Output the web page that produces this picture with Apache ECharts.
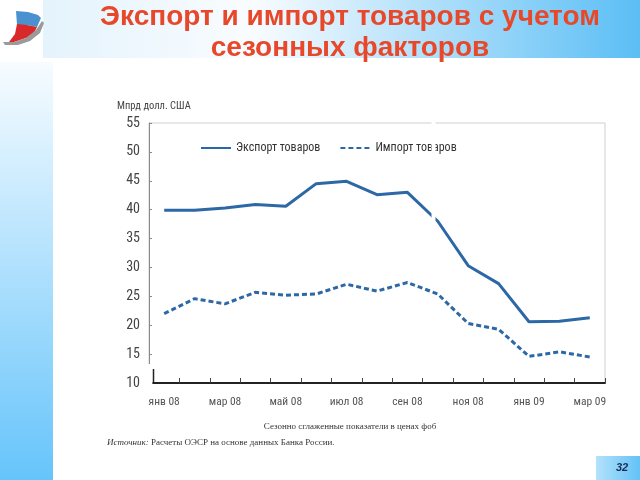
<!DOCTYPE html>
<html>
<head>
<meta charset="utf-8">
<script src="https://cdn.jsdelivr.net/npm/echarts@6/dist/echarts.min.js"></script>
<style>
html,body{margin:0;padding:0;background:#fff;}
#chart{width:640px;height:480px;}
</style>
</head>
<body>
<div id="chart"></div>
<script>
var categories = ['янв 08','фев 08','мар 08','апр 08','май 08','июн 08','июл 08','авг 08','сен 08','окт 08','ноя 08','дек 08','янв 09','фев 09','мар 09'];
var exportValues = [39.9, 39.9, 40.3, 40.9, 40.6, 44.5, 44.9, 42.6, 43.0, 38.0, 30.3, 27.2, 20.6, 20.7, 21.3];
var importValues = [22.0, 24.6, 23.7, 25.7, 25.2, 25.4, 27.1, 25.9, 27.4, 25.4, 20.3, 19.3, 14.6, 15.4, 14.5];
var yTicks = [10, 15, 20, 25, 30, 35, 40, 45, 50, 55];
var seriesNames = ['Экспорт товаров', 'Импорт товаров'];

var narrow = "'Liberation Sans Narrow', 'Roboto Condensed', 'Liberation Sans', Arial, sans-serif";
var serif = "'Liberation Serif', 'DejaVu Serif', serif";
var lineColor = '#2d68a6';

var chart = echarts.init(document.getElementById('chart'), null, {renderer: 'canvas'});
chart.setOption({
  animation: false,
  backgroundColor: '#ffffff',
  title: {
    text: 'Экспорт и импорт товаров с учетом\nсезонных факторов',
    left: 345, top: -3, textAlign: 'center',
    textStyle: {color: '#e8482a', fontSize: 28, fontWeight: 'bold', fontFamily: "'Liberation Sans', Arial, sans-serif", lineHeight: 31}
  },
  legend: {
    left: 195, top: 137,
    itemWidth: 30, itemHeight: 2, itemGap: 19,
    itemStyle: {opacity: 0},
    data: seriesNames,
    textStyle: {fontFamily: narrow, fontSize: 12, color: '#333'}
  },
  grid: {
    left: 149, right: 35, top: 123, bottom: 97,
    show: true, borderColor: '#cfcfcf', borderWidth: 1, backgroundColor: 'transparent'
  },
  xAxis: {
    type: 'category',
    data: categories,
    boundaryGap: true,
    axisLine: {lineStyle: {color: '#222', width: 2}},
    axisTick: {show: true, inside: true, length: 5, interval: 0, lineStyle: {color: '#444'}},
    axisLabel: {
      interval: 1, margin: 13, color: '#555', fontSize: 11.5, fontFamily: narrow
    },
    splitLine: {show: false}
  },
  yAxis: {
    type: 'value',
    min: 10, max: 55, interval: 5,
    axisLine: {show: true, lineStyle: {color: '#8a8a8a', width: 1}},
    axisTick: {show: true, inside: true, length: 3, lineStyle: {color: '#8a8a8a'}},
    axisLabel: {
      margin: 9, color: '#444', fontSize: 14, fontFamily: narrow,
      formatter: function (v) { return yTicks.indexOf(v) >= 0 ? String(v) : ''; }
    },
    splitLine: {show: false}
  },
  series: [
    {
      name: seriesNames[0], type: 'line', data: exportValues,
      symbol: 'none', smooth: false,
      lineStyle: {color: lineColor, width: 3},
      itemStyle: {color: lineColor}
    },
    {
      name: seriesNames[1], type: 'line', data: importValues,
      symbol: 'none', smooth: false,
      lineStyle: {color: lineColor, width: 3, type: [5, 3]},
      itemStyle: {color: lineColor}
    }
  ],
  graphic: [
    // header band
    {type: 'rect', z: -10, shape: {x: 43, y: 0, width: 597, height: 58},
     style: {fill: new echarts.graphic.LinearGradient(0, 0, 1, 0, [
       {offset: 0, color: '#e4f3fc'}, {offset: 0.35, color: '#f9fcff'}, {offset: 1, color: '#5bbef5'}])}},
    // left strip
    {type: 'rect', z: -10, shape: {x: 0, y: 62, width: 53, height: 418},
     style: {fill: new echarts.graphic.LinearGradient(0, 0, 0, 1, [
       {offset: 0, color: '#f7fcff'}, {offset: 1, color: '#66c4fb'}])}},
    // page number box
    {type: 'rect', z: -10, shape: {x: 596, y: 456, width: 44, height: 24},
     style: {fill: new echarts.graphic.LinearGradient(0, 0, 1, 0, [
       {offset: 0, color: '#b4e2fb'}, {offset: 1, color: '#62c2f6'}])}},
    {type: 'text', z: 10, style: {text: '32', x: 622, y: 468, textAlign: 'center', textVerticalAlign: 'middle',
      fill: '#1c2b58', font: "italic bold 11px 'Liberation Sans', Arial, sans-serif"}},
    // logo
    {type: 'polygon', z: 5, shape: {points: [[16,11],[28,12],[38,15],[41,18],[37,27],[27,25],[17,25]]},
     style: {fill: '#4a92cf'}},
    {type: 'polygon', z: 6, shape: {points: [[17,24],[27,25],[37,27],[34,33],[26,38],[14,42],[9,42],[15,34]]},
     style: {fill: '#d9282a'}},
    {type: 'polygon', z: 6, shape: {points: [[3,42],[14,42],[26,38],[36,30],[42,21],[44,23],[40,33],[30,41],[18,45],[5,45]]},
     style: {fill: '#9a9a9a'}},
    // y axis name
    {type: 'text', z: 10, style: {text: 'Мпрд долл. США', x: 117, y: 106, textVerticalAlign: 'middle',
      fill: '#444', font: "10.5px " + narrow}},
    // axis break at bottom-left
    {type: 'rect', z: 20, shape: {x: 144, y: 364, width: 8.5, height: 22}, style: {fill: '#ffffff'}},
    {type: 'line', z: 21, shape: {x1: 153.5, y1: 369, x2: 153.5, y2: 384}, style: {stroke: '#222', lineWidth: 1.5}},
    // white scan artifact strip
    {type: 'rect', z: 20, shape: {x: 431.5, y: 118, width: 4, height: 108}, style: {fill: '#ffffff'}},
    // footer texts
    {type: 'text', z: 10, style: {text: 'Сезонно сглаженные показатели в ценах фоб', x: 350, y: 427,
      textAlign: 'center', textVerticalAlign: 'middle', fill: '#333', font: "9px " + serif}},
    {type: 'text', z: 10, style: {
      text: '{i|Источник:} Расчеты ОЭСР на основе данных Банка России.', x: 107, y: 443, textVerticalAlign: 'middle',
      fill: '#333', font: "9px " + serif,
      rich: {i: {fontStyle: 'italic', fontFamily: serif, fontSize: 9, fill: '#333'}}}}
  ]
});
</script>
</body>
</html>
